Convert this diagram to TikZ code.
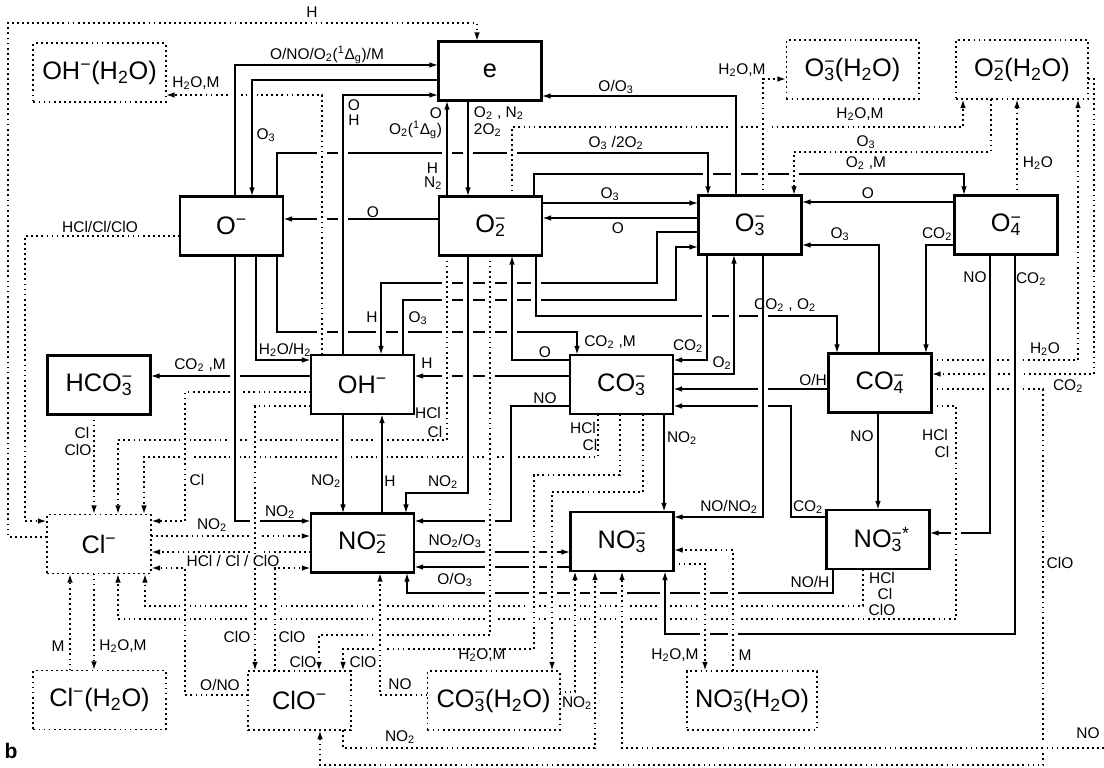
\documentclass[tikz,border=0pt]{standalone}
\usepackage{fontspec}
\setmainfont{Liberation Sans}
\usepackage{tikz}
\usetikzlibrary{arrows.meta, backgrounds}

\newcommand{\ix}[1]{\textsubscript{#1}}
\newcommand{\ionsub}[2]{\rlap{\textsuperscript{#2}}\textsubscript{#1}}

\tikzset{
  ionbox/.style={rectangle, draw, line width=1.5pt, inner sep=0pt, outer sep=0pt,
    minimum width=2.575cm, minimum height=1.475cm, font=\fontsize{18}{20}\selectfont},
  dotline/.style={line width=1.4pt, dash pattern=on 1.3pt off 2.3pt},
  hydbox/.style={ionbox, dotline, minimum width=3.3cm},
  rx/.style={-{Latex[length=6.5pt,width=4pt]}, line width=1.2pt,
    preaction={draw=white, solid, line width=7pt, -}},
  dx/.style={rx, dotline},
  lbl/.style={font=\fontsize{11}{12}\selectfont, inner sep=0.5pt}
}

\begin{document}
\begin{tikzpicture}[x=0.025cm, y=-0.025cm]
  \useasboundingbox (0,0) rectangle (1104,768);

  % ions
  \node[ionbox] (e) at (490,71) {e};
  \node[ionbox] (Om) at (231.5,226) {O\textsuperscript{−}};
  \node[ionbox] (O2m) at (490.5,226) {O\ionsub{2}{−}};
  \node[ionbox] (O3m) at (750,225) {O\ionsub{3}{−}};
  \node[ionbox] (O4m) at (1006,225) {O\ionsub{4}{−}};
  \node[ionbox] (HCO3) at (99,385) {HCO\ionsub{3}{−}};
  \node[ionbox] (OHm) at (362.5,384.5) {OH\textsuperscript{−}};
  \node[ionbox] (CO3) at (621.5,384.5) {CO\ionsub{3}{−}};
  \node[ionbox] (CO4) at (880,383) {CO\ionsub{4}{−}};
  \node[ionbox] (NO2) at (362.5,543) {NO\ionsub{2}{−}};
  \node[ionbox] (NO3) at (622,541.5) {NO\ionsub{3}{−}};
  \node[ionbox] (NO3s) at (878,539.5) {NO\ionsub{3}{−*}};

  % clusters and chlorine ions
  \node[hydbox] (OHw) at (99.5,72.5) {OH\textsuperscript{−}(H\ix{2}O)};
  \node[hydbox] (O3w) at (852.5,69.5) {O\ionsub{3}{−}(H\ix{2}O)};
  \node[hydbox] (O2w) at (1022,69.5) {O\ionsub{2}{−}(H\ix{2}O)};
  \node[hydbox, minimum width=2.6cm] (Clm) at (99,544) {Cl\textsuperscript{−}};
  \node[hydbox] (Clw) at (99.5,700) {Cl\textsuperscript{−}(H\ix{2}O)};
  \node[hydbox, minimum width=2.575cm] (ClOm) at (299.5,700.5) {ClO\textsuperscript{−}};
  \node[hydbox] (CO3w) at (493.5,700.5) {CO\ionsub{3}{−}(H\ix{2}O)};
  \node[hydbox, minimum width=3.25cm] (NO3w) at (752,700.5) {NO\ionsub{3}{−}(H\ix{2}O)};
  \coordinate (noin) at (1104,748);

  \begin{scope}[on background layer]
    % long runs first, so that the crossing lines cut them
    \draw[dx] (Clm.west |- 0,537) -| (8,23) -| (477,0 |- e.north);
    \draw[dx] (Om.west |- 0,236) -| (25,521) -- (Clm.west |- 0,521);
    \draw[rx] (534,0 |- O2m.north) |- (964,174) -- (964,0 |- O4m.north);
    \draw[rx] (277,0 |- Om.north) |- (708,153) -- (708,0 |- O3m.north);
    \draw[rx] (277,0 |- Om.south) |- (577,332) -- (577,0 |- CO3.north);
    \draw[rx] (O3m.west |- 0,232) -| (657,283) -| (381,0 |- OHm.north);
    \draw[rx] (403,0 |- OHm.north) |- (676,300) |- (O3m.west |- 0,247);
    \draw[rx] (536,0 |- O2m.south) |- (837,316) -- (837,0 |- CO4.north);
    \draw[dx] (512,0 |- O2m.north) |- (963,127) -- (963,0 |- O2w.south);
    \draw[dx] (991,0 |- O2w.south) |- (794,152) -- (794,0 |- O3m.north);
    \draw[rx] (O2m.east |- 0,203) -- (O3m.west |- 0,203);
    \draw[rx] (O3m.west |- 0,218) -- (O2m.east |- 0,218);
    \draw[rx] (O2m.west |- 0,219) -- (Om.east |- 0,219);
    \draw[rx] (O4m.west |- 0,202) -- (O3m.east |- 0,202);
    \draw[rx] (879,0 |- CO4.north) |- (O3m.east |- 0,245);
    \draw[rx] (O4m.west |- 0,245) -| (926,0 |- CO4.north);
    \draw[rx] (CO3.west |- 0,376) -- (OHm.east |- 0,376);
    \draw[rx] (OHm.west |- 0,376) -- (HCO3.east |- 0,376);
    \draw[rx] (256,0 |- Om.south) |- (OHm.west |- 0,360);
    \draw[dx] (598,0 |- CO3.south) |- (144,457) -- (144,0 |- Clm.north);
    \draw[dx] (447,0 |- O2m.south) |- (118,440) -- (118,0 |- Clm.north);
    \draw[dx] (OHm.west |- 0,392) -| (185,521) -- (Clm.east |- 0,521);
    \draw[dx] (Clm.east |- 0,536) -- (NO2.west |- 0,536);
    \draw[dx] (NO2.west |- 0,552) -- (Clm.east |- 0,552);
    \draw[rx] (235,0 |- Om.south) |- (NO2.west |- 0,521);
    \draw[dx] (CO4.east |- 0,360) -| (1078,0 |- O2w.south);
    \draw[dx] (O2w.east |- 0,79) -| (1094,374) -- (CO4.east |- 0,374);
    \draw[dx] (CO4.east |- 0,389) -| (1043,765) -| (320,0 |- ClOm.south);
    \draw[rx] (990,0 |- O4m.south) |- (NO3s.east |- 0,533);
    \draw[dx] (863,0 |- NO3s.south) |- (145,606) -- (145,0 |- Clm.south);
    \draw[dx] (CO4.east |- 0,406) -| (956,619) -| (118,0 |- Clm.south);
    \draw[rx] (833,0 |- NO3s.south) |- (407,593) -- (407,0 |- NO2.south);
    \draw[rx] (NO2.east |- 0,552) -- (NO3.west |- 0,552);
    \draw[rx] (NO3.west |- 0,567) -- (NO2.east |- 0,567);
    \draw[rx] (CO4.west |- 0,389) -- (CO3.east |- 0,389);
    \draw[rx] (NO3s.west |- 0,517) -| (791,406) -- (CO3.east |- 0,406);
    \draw[dx] (OHm.west |- 0,406) -| (255,0 |- ClOm.north);

    % shorter links round CO3-, OH- and NO2-
    \draw[rx] (CO3.west |- 0,360) -| (512,0 |- O2m.south);
    \draw[rx] (468,0 |- O2m.south) |- (406,493) -- (406,0 |- NO2.north);
    \draw[rx] (CO3.west |- 0,406) -| (511,521) -- (NO2.east |- 0,521);
    \draw[rx] (382,0 |- NO2.north) -- (382,0 |- OHm.south);
    \draw[rx] (343,0 |- OHm.south) -- (343,0 |- NO2.north);
    \draw[rx] (664,0 |- CO3.south) -- (664,0 |- NO3.north);
    \draw[rx] (878,0 |- CO4.south) -- (878,0 |- NO3s.north);
    \draw[rx] (763,0 |- O3m.south) |- (NO3.east |- 0,517);
    \draw[rx] (CO3.east |- 0,374) -| (734,0 |- O3m.south);
    \draw[rx] (707,0 |- O3m.south) |- (CO3.east |- 0,360);
    \draw[dx] (94,0 |- HCO3.south) -- (94,0 |- Clm.north);

    % links round e
    \draw[dx] (322,0 |- OHm.north) |- (OHw.east |- 0,95);
    \draw[rx] (235,0 |- Om.north) |- (e.west |- 0,65);
    \draw[rx] (e.west |- 0,80) -| (252,0 |- Om.north);
    \draw[rx] (343,0 |- OHm.north) |- (e.west |- 0,95);
    \draw[rx] (468,0 |- e.south) -- (468,0 |- O2m.north);
    \draw[rx] (447,0 |- O2m.north) -- (447,0 |- e.south);
    \draw[rx] (736,0 |- O3m.north) |- (e.east |- 0,96);
    \draw[dx] (763,0 |- O3m.north) |- (O3w.west |- 0,79);
    \draw[dx] (1017,0 |- O4m.north) -- (1017,0 |- O2w.south);

    % drops to the lower row
    \draw[dx] (ClOm.west |- 0,695) -| (185,568) -- (Clm.east |- 0,568);
    \draw[dx] (275,0 |- ClOm.north) |- (NO2.west |- 0,568);
    \draw[dx] (490,0 |- O2m.south) |- (319,635) -- (319,0 |- ClOm.north);
    \draw[dx] (620,0 |- CO3.south) |- (534,475) |- (343,649) -- (343,0 |- ClOm.north);
    \draw[dx] (643,0 |- CO3.south) |- (552,492) -- (552,0 |- CO3w.north);
    \draw[dx] (CO3w.west |- 0,695) -| (380,0 |- NO2.south);
    \draw[dx] (CO3w.east |- 0,692) -| (575,0 |- NO3.south);
    \draw[dx] (343,0 |- ClOm.south) |- (595,748) -- (595,0 |- NO3.south);
    \draw[dx] (noin) -| (622,0 |- NO3.south);
    \draw[rx] (1015,0 |- O4m.south) |- (665,634) -- (665,0 |- NO3.south);
    \draw[dx] (NO3.east |- 0,564) -| (705,0 |- NO3w.north);
    \draw[dx] (733,0 |- NO3w.north) |- (NO3.east |- 0,550);
    \draw[dx] (70,0 |- Clw.north) -- (70,0 |- Clm.south);
    \draw[dx] (94,0 |- Clm.south) -- (94,0 |- Clw.north);
  \end{scope}

  % labels, upper part
  \node[lbl] (lH) at (312,12) {H};
  \node[lbl] (lONO) at (327,55) {O/NO/O\ix{2}(\textsuperscript{1}Δ\ix{g})/M};
  \node[lbl] (lO3a) at (266,135) {O\ix{3}};
  \node[lbl] (lOHa) at (354,105) {O};
  \node[lbl] (lOHb) at (354,120) {H};
  \node[lbl, anchor=west] (lO2N2) at (473,113) {O\ix{2} , N\ix{2}};
  \node[lbl, anchor=west] (l2O2) at (473,130) {2O\ix{2}};
  \node[lbl, anchor=east] (lOe) at (443,113) {O};
  \node[lbl, anchor=east] (lO2D) at (443,130) {O\ix{2}(\textsuperscript{1}Δ\ix{g})};
  \node[lbl, anchor=east] (lHe) at (439,168) {H};
  \node[lbl, anchor=east] (lN2e) at (443,183) {N\ix{2}};
  \node[lbl] (lOO3) at (616,87) {O/O\ix{3}};
  \node[lbl] (lH2OMa) at (196,83) {H\ix{2}O,M};
  \node[lbl] (lH2OMb) at (860,114) {H\ix{2}O,M};
  \node[lbl] (lH2OMc) at (742,70) {H\ix{2}O,M};
  \node[lbl] (lO3b) at (866,142) {O\ix{3}};
  \node[lbl] (lO2M) at (866,163) {O\ix{2} ,M};
  \node[lbl, anchor=west] (lH2Oa) at (1022,163) {H\ix{2}O};
  \node[lbl] (lO3c) at (616,143) {O\ix{3} /2O\ix{2}};
  \node[lbl] (lO3d) at (610,194) {O\ix{3}};
  \node[lbl] (lOa) at (618,228) {O};
  \node[lbl] (lOb) at (373,212) {O};
  \node[lbl] (lOc) at (868,193) {O};
  \node[lbl] (lO3e) at (840,234) {O\ix{3}};
  \node[lbl] (lCO2a) at (937,234) {CO\ix{2}};
  \node[lbl] (lNOa) at (975,277) {NO};
  \node[lbl] (lCO2b) at (1031,279) {CO\ix{2}};
  \node[lbl] (lHCla) at (100,227) {HCl/Cl/ClO};

  % labels, middle part
  \node[lbl] (lCO2O2) at (785,305) {CO\ix{2} , O\ix{2}};
  \node[lbl] (lH2Ob) at (1045,349) {H\ix{2}O};
  \node[lbl] (lCO2c) at (1068,386) {CO\ix{2}};
  \node[lbl] (lOH) at (813,380) {O/H};
  \node[lbl] (lNOb) at (862,436) {NO};
  \node[lbl] (lHClb) at (935,435) {HCl};
  \node[lbl] (lClb) at (942,452) {Cl};
  \node[lbl] (lH5) at (372,317) {H};
  \node[lbl] (lO3f) at (418,318) {O\ix{3}};
  \node[lbl] (lH2OH2) at (285,350) {H\ix{2}O/H\ix{2}};
  \node[lbl] (lCO2Mb) at (200,365) {CO\ix{2} ,M};
  \node[lbl] (lCO2M) at (610,342) {CO\ix{2} ,M};
  \node[lbl] (lOd) at (545,352) {O};
  \node[lbl] (lCO2e) at (688,346) {CO\ix{2}};
  \node[lbl] (lO2) at (722,363) {O\ix{2}};
  \node[lbl] (lH4) at (427,363) {H};
  \node[lbl] (lNOe) at (545,398) {NO};
  \node[lbl] (lHClc) at (428,413) {HCl};
  \node[lbl] (lClc) at (435,432) {Cl};
  \node[lbl] (lHCld) at (583,428) {HCl};
  \node[lbl] (lCld) at (590,445) {Cl};
  \node[lbl] (lNO2g) at (682,438) {NO\ix{2}};
  \node[lbl] (lCle) at (82,433) {Cl};
  \node[lbl] (lClOf) at (78,450) {ClO};
  \node[lbl] (lClg) at (197,480) {Cl};
  \node[lbl] (lNO2e) at (326,481) {NO\ix{2}};
  \node[lbl] (lH3) at (390,481) {H};
  \node[lbl] (lNO2f) at (443,482) {NO\ix{2}};

  % labels, lower part
  \node[lbl] (lCO2d) at (808,507) {CO\ix{2}};
  \node[lbl] (lNONO2) at (729,507) {NO/NO\ix{2}};
  \node[lbl] (lNOH) at (810,582) {NO/H};
  \node[lbl] (lHClh) at (882,578) {HCl};
  \node[lbl] (lClh) at (885,594) {Cl};
  \node[lbl] (lClOh) at (882,610) {ClO};
  \node[lbl] (lClOa) at (1060,563) {ClO};
  \node[lbl] (lNOc) at (1088,733) {NO};
  \node[lbl] (lM1) at (745,655) {M};
  \node[lbl] (lH2OMd) at (675,655) {H\ix{2}O,M};
  \node[lbl] (lNO2a) at (577,703) {NO\ix{2}};
  \node[lbl] (lNO2b) at (400,737) {NO\ix{2}};
  \node[lbl] (lNOd) at (400,684) {NO};
  \node[lbl] (lH2OMe) at (482,655) {H\ix{2}O,M};
  \node[lbl] (lClOb) at (363,662) {ClO};
  \node[lbl] (lClOc) at (303,662) {ClO};
  \node[lbl] (lClOd) at (292,637) {ClO};
  \node[lbl] (lClOe) at (237,637) {ClO};
  \node[lbl] (lONO2) at (220,685) {O/NO};
  \node[lbl] (lM2) at (58,646) {M};
  \node[lbl] (lH2OMf) at (123,646) {H\ix{2}O,M};
  \node[lbl] (lHClCl) at (233,561) {HCl / Cl / ClO};
  \node[lbl] (lNO2c) at (212,525) {NO\ix{2}};
  \node[lbl] (lNO2d) at (280,512) {NO\ix{2}};
  \node[lbl] (lNO2h) at (455,541) {NO\ix{2}/O\ix{3}};
  \node[lbl] (lOO3b) at (455,580) {O/O\ix{3}};
  \node[font=\bfseries\fontsize{15}{16}\selectfont] (panel) at (11,751) {b};
\end{tikzpicture}
\end{document}
